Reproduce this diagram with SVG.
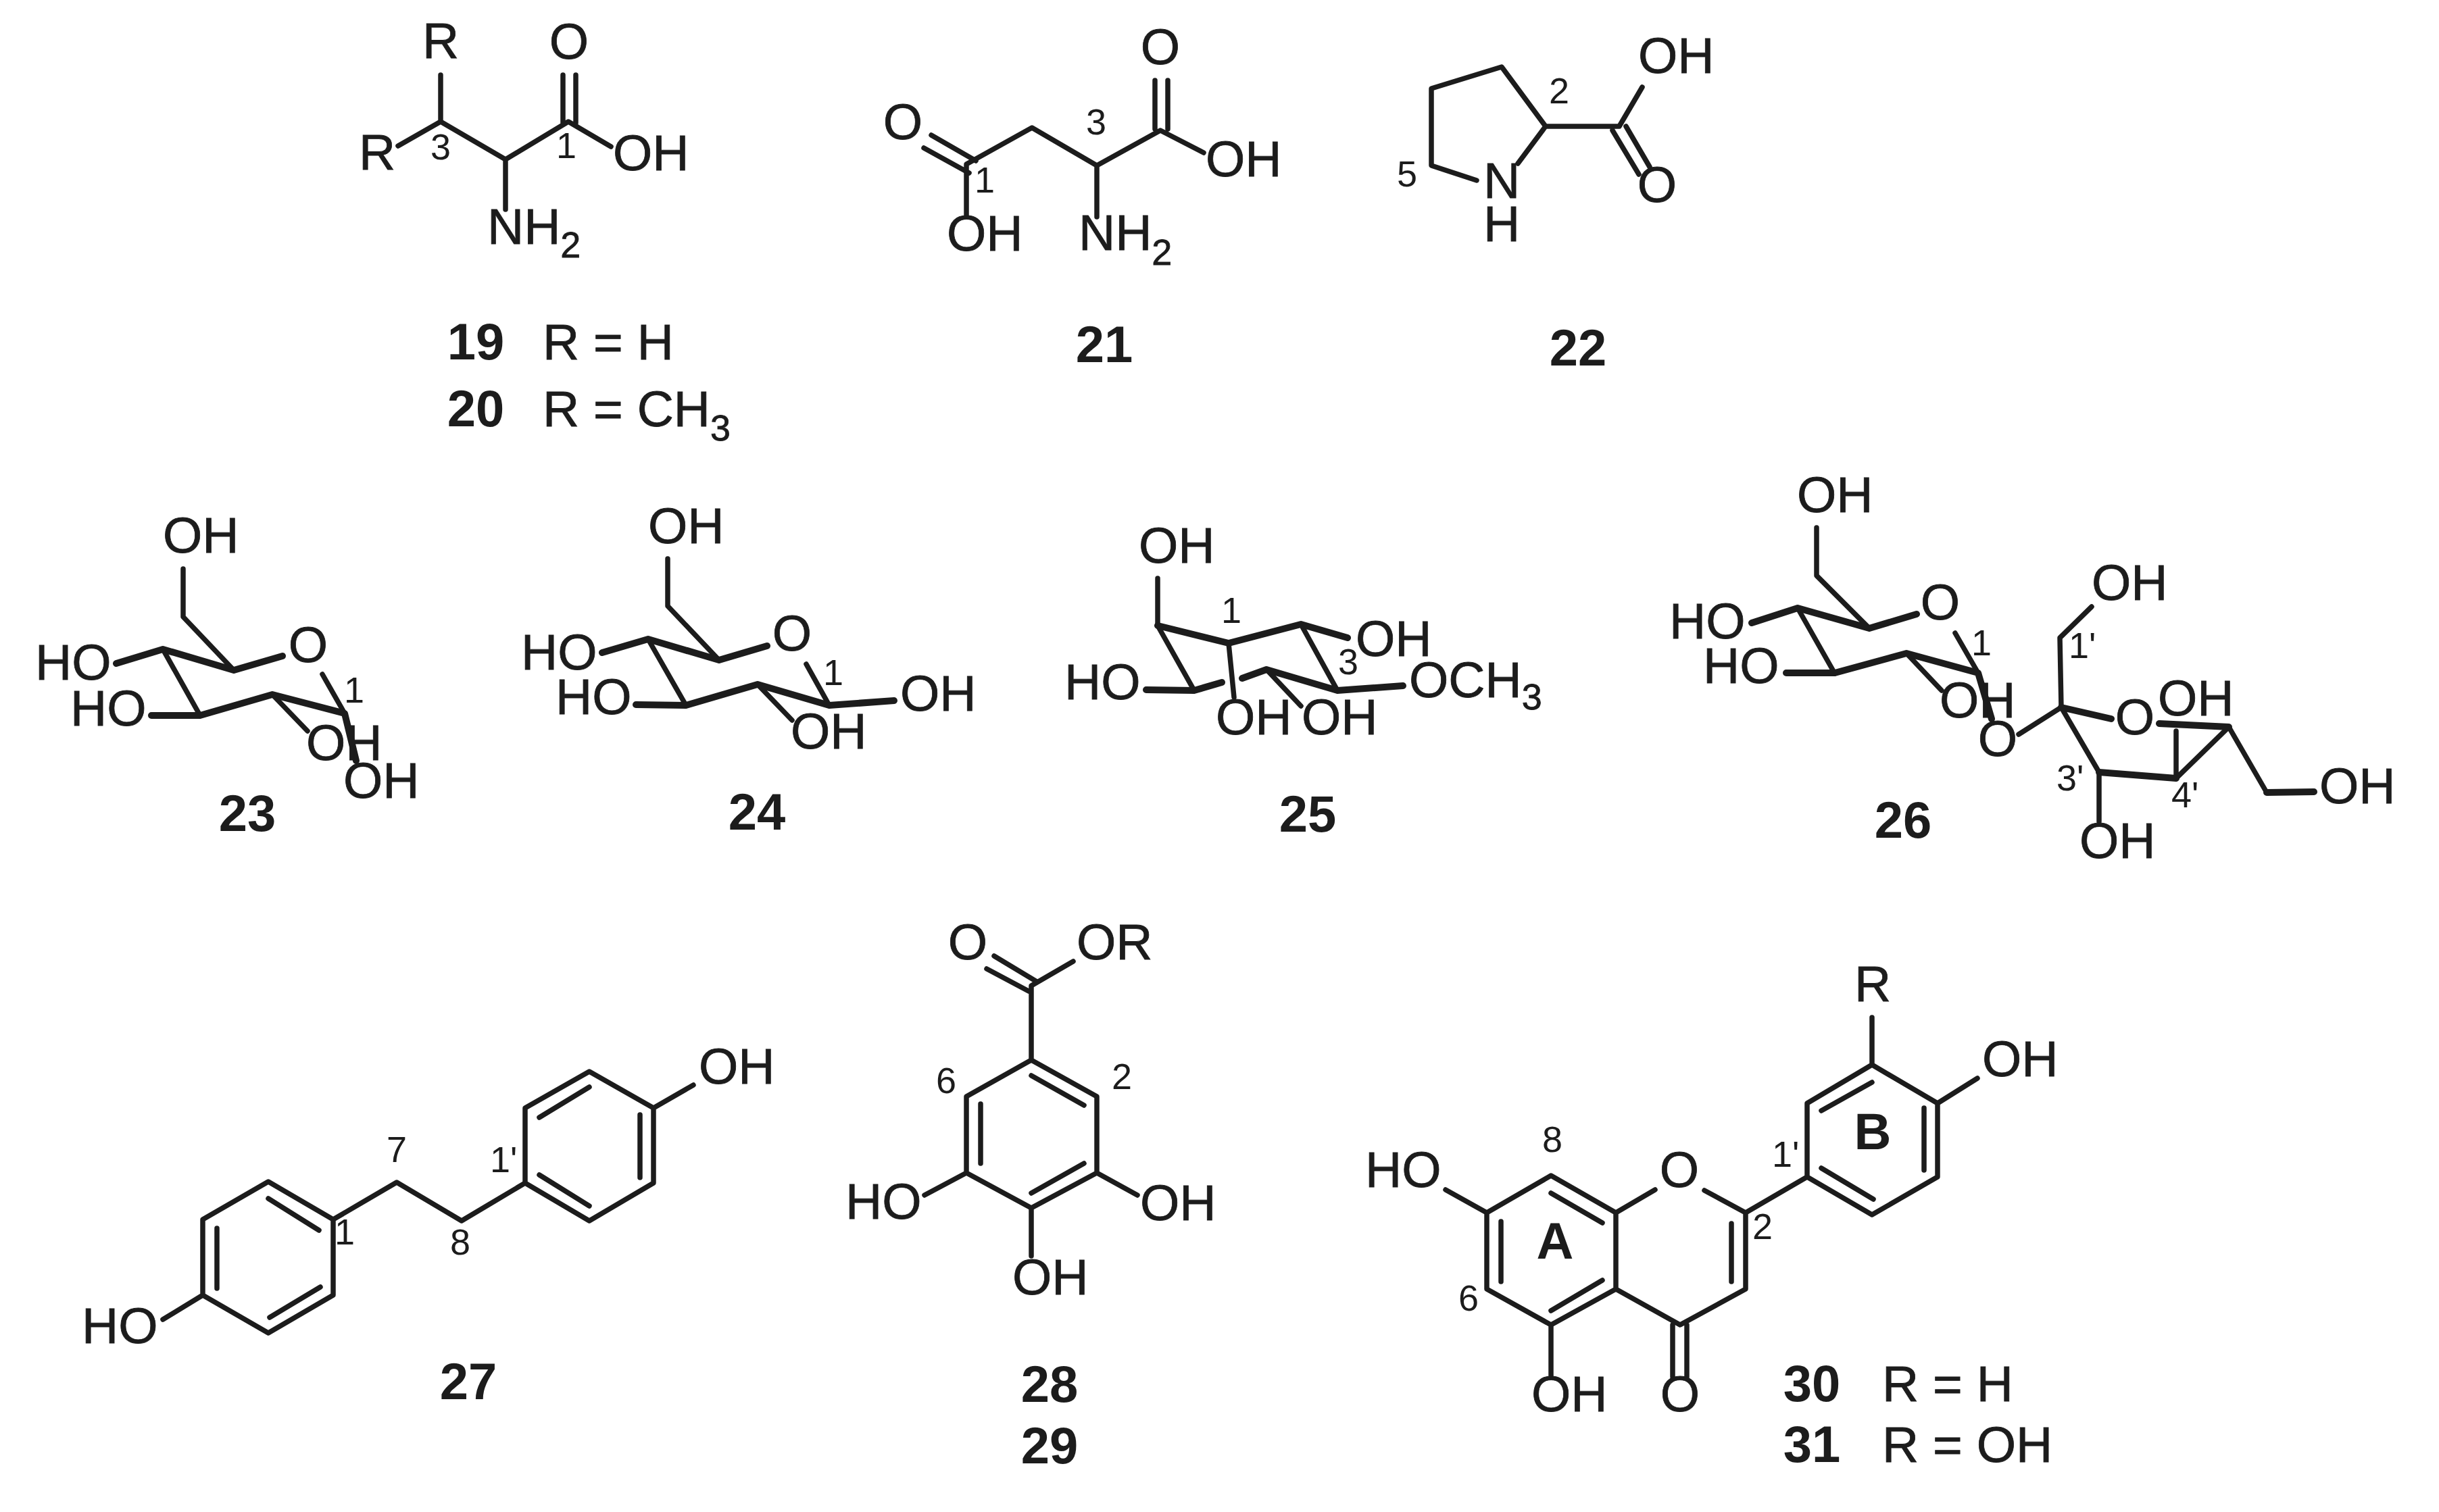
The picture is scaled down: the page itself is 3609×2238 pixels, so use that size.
<svg xmlns="http://www.w3.org/2000/svg" width="3609" height="2238" viewBox="0 0 3609 2238">
<style>
text{font-family:"Liberation Sans",Arial,sans-serif;fill:#1c1c1c}
.a{font-size:75px;stroke:#1c1c1c;stroke-width:.8}
.n{font-size:54px}
.b{font-size:76px;font-weight:bold}
.m{text-anchor:middle}
.s{font-size:54px}
.bond{fill:none;stroke:#1c1c1c;stroke-width:7.5;stroke-linecap:round;stroke-linejoin:round}
.bold{fill:none;stroke:#1c1c1c;stroke-width:10;stroke-linecap:round;stroke-linejoin:round}
</style>
<rect width="3609" height="2238" fill="#fff"/>
<g id="compound-19">
<path class="bond" d="M652 111V180L589 216M652 180L748 236V310M748 236L841 180L904 217M833 111V182M852 111V182"/>
<text class="a m" x="652" y="86">R</text>
<text class="a" x="531" y="251">R</text>
<text class="a m" x="842" y="87">O</text>
<text class="a" x="907" y="252">OH</text>
<text class="a" x="721" y="361">NH<tspan class="s" dy="20">2</tspan></text>
<text class="n m" x="652" y="236">3</text>
<text class="n m" x="838" y="234">1</text>
<text class="b m" x="704" y="532">19</text>
<text class="a" x="803" y="532">R = H</text>
<text class="b m" x="704" y="631">20</text>
<text class="a" x="803" y="631">R = CH<tspan class="s" dy="21">3</tspan></text>
</g>
<g id="compound-21">
<path class="bond" d="M1430 319V243L1527 189L1623 245V321M1623 245L1717 193L1781 226M1378 200L1444 238M1367 219L1434 256M1709 119V191M1728 119V191"/>
<text class="a m" x="1336" y="206">O</text>
<text class="a" x="1401" y="371">OH</text>
<text class="a m" x="1717" y="95">O</text>
<text class="a" x="1784" y="261">OH</text>
<text class="a" x="1596" y="370">NH<tspan class="s" dy="22">2</tspan></text>
<text class="n m" x="1622" y="199">3</text>
<text class="n m" x="1457" y="285">1</text>
<text class="b m" x="1634" y="536">21</text>
</g>
<g id="compound-22">
<path class="bond" d="M2246 242L2287 187L2222 99L2118 131V245L2185 267M2287 187H2396L2430 129M2386 193L2425 258M2406 187L2441 247"/>
<text class="a m" x="2222" y="293">N</text>
<text class="a m" x="2222" y="357">H</text>
<text class="a" x="2424" y="108">OH</text>
<text class="a m" x="2452" y="299">O</text>
<text class="n m" x="2307" y="153">2</text>
<text class="n m" x="2082" y="276">5</text>
<text class="b m" x="2335" y="541">22</text>
</g>
<g id="compound-23">
<path class="bond" d="M271 842V913L346 992M241 961L296 1059M403 1028L455 1082M510 1056L477 998"/>
<path class="bold" d="M418 971L346 992L241 961L172 982M224 1059H296L403 1028L510 1056L527 1126"/>
<text class="a" x="241" y="818">OH</text>
<text class="a m" x="456" y="980">O</text>
<text class="a" x="52" y="1006">HO</text>
<text class="a" x="104" y="1074">HO</text>
<text class="a" x="453" y="1125">OH</text>
<text class="a" x="508" y="1181">OH</text>
<text class="n m" x="524" y="1040">1</text>
<text class="b m" x="366" y="1230">23</text>
</g>
<g id="compound-24">
<path class="bond" d="M988 827V897L1064 977M959 946L1015 1044M1121 1013L1172 1066M1227 1044L1193 983"/>
<path class="bold" d="M1135 956L1064 977L959 946L891 966M941 1043L1015 1044L1121 1013L1227 1044L1323 1037"/>
<text class="a" x="959" y="804">OH</text>
<text class="a m" x="1172" y="963">O</text>
<text class="a" x="771" y="991">HO</text>
<text class="a" x="822" y="1057">HO</text>
<text class="a" x="1170" y="1108">OH</text>
<text class="a" x="1332" y="1052">OH</text>
<text class="n m" x="1233" y="1014">1</text>
<text class="b m" x="1120" y="1228">24</text>
</g>
<g id="compound-25">
<path class="bond" d="M1713 856V926L1767 1022M1925 924L1979 1022M1874 991L1925 1045M1818 952L1826 1032"/>
<path class="bold" d="M1713 926L1818 952L1925 924L1994 944M1696 1021L1767 1022L1808 1010M1838 1004L1874 991L1979 1022L2076 1015"/>
<text class="a" x="1685" y="833">OH</text>
<text class="a" x="2006" y="971">OH</text>
<text class="a" x="2085" y="1032">OCH<tspan class="s" dy="18">3</tspan></text>
<text class="a" x="1926" y="1087">OH</text>
<text class="a" x="1799" y="1087">OH</text>
<text class="a" x="1575" y="1035">HO</text>
<text class="n m" x="1822" y="922">1</text>
<text class="n m" x="1995" y="998">3</text>
<text class="b m" x="1935" y="1231">25</text>
</g>
<g id="compound-26">
<path class="bond" d="M2688 781V852L2766 930M2660 900L2715 997M2821 967L2873 1022M2927 996L2893 937M2987 1087L3050 1047L3048 944L3095 898M3050 1047L3106 1143V1216M3220 1082V1152L3298 1076L3354 1173"/>
<path class="bold" d="M2836 909L2766 930L2660 900L2592 922M2643 996H2715L2821 967L2927 996L2947 1064M3050 1047L3124 1064M3106 1143L3220 1152M3195 1071L3298 1076M3354 1173L3424 1172"/>
<text class="a" x="2659" y="758">OH</text>
<text class="a m" x="2871" y="917">O</text>
<text class="a" x="2470" y="945">HO</text>
<text class="a" x="2520" y="1011">HO</text>
<text class="a" x="2870" y="1062">OH</text>
<text class="a m" x="2956" y="1119">O</text>
<text class="a" x="3095" y="888">OH</text>
<text class="a m" x="3159" y="1087">O</text>
<text class="a" x="3193" y="1059">OH</text>
<text class="a" x="3077" y="1270">OH</text>
<text class="a" x="3432" y="1189">OH</text>
<text class="n m" x="2932" y="970">1</text>
<text class="n" x="3061" y="974">1'</text>
<text class="n" x="3043" y="1170">3'</text>
<text class="n" x="3213" y="1195">4'</text>
<text class="b m" x="2816" y="1240">26</text>
</g>
<g id="compound-27">
<path class="bond" d="M493 1805L397 1749L300 1805V1917L397 1973L493 1917ZM397 1774L472 1821M321 1818V1907M399 1950L474 1905M300 1917L241 1953M493 1805L587 1750L683 1807L777 1751L872 1807L967 1751V1640L872 1586L777 1640V1751M798 1654L872 1609M947 1650V1743M798 1739L872 1785M967 1640L1026 1606"/>
<text class="a" x="121" y="1988">HO</text>
<text class="a" x="1034" y="1604">OH</text>
<text class="n m" x="587" y="1720">7</text>
<text class="n m" x="681" y="1857">8</text>
<text class="n m" x="510" y="1842">1</text>
<text class="n" x="725" y="1735">1'</text>
<text class="b m" x="693" y="2071">27</text>
</g>
<g id="compound-28">
<path class="bond" d="M1526 1569L1623 1623V1736L1526 1788L1430 1736V1623ZM1526 1592L1604 1636M1451 1634V1722M1526 1766L1604 1722M1526 1569V1459L1588 1423M1471 1415L1534 1453M1460 1434L1522 1467M1430 1736L1368 1769M1623 1736L1683 1769M1526 1788V1859"/>
<text class="a m" x="1432" y="1420">O</text>
<text class="a" x="1593" y="1420">OR</text>
<text class="a" x="1251" y="1804">HO</text>
<text class="a" x="1687" y="1806">OH</text>
<text class="a" x="1498" y="1916">OH</text>
<text class="n m" x="1400" y="1618">6</text>
<text class="n m" x="1660" y="1612">2</text>
<text class="b m" x="1553" y="2075">28</text>
<text class="b m" x="1553" y="2166">29</text>
</g>
<g id="compound-30">
<path class="bond" d="M2770 1506V1576L2867 1633V1742L2770 1798L2674 1742V1633L2770 1576M2770 1602L2695 1644M2847 1640V1732M2695 1729L2772 1775M2867 1633L2926 1596M2674 1742L2583 1795L2522 1762M2391 1795L2449 1761M2391 1795L2295 1740L2200 1795V1908L2295 1961L2391 1908ZM2295 1766L2371 1810M2221 1808V1897M2295 1940L2371 1895M2200 1795L2139 1761M2583 1795V1908L2486 1961L2391 1908M2562 1811V1897M2475 1961V2038M2496 1961V2038M2295 1961V2037"/>
<text class="a m" x="2771" y="1482">R</text>
<text class="a" x="2933" y="1593">OH</text>
<text class="a m" x="2485" y="1757">O</text>
<text class="a" x="2020" y="1757">HO</text>
<text class="a m" x="2486" y="2089">O</text>
<text class="a" x="2266" y="2089">OH</text>
<text class="b m" x="2771" y="1701">B</text>
<text class="b m" x="2301" y="1863">A</text>
<text class="n m" x="2297" y="1705">8</text>
<text class="n m" x="2173" y="1940">6</text>
<text class="n" x="2622" y="1727">1'</text>
<text class="n m" x="2608" y="1834">2</text>
<text class="b m" x="2681" y="2074">30</text>
<text class="a" x="2785" y="2074">R = H</text>
<text class="b m" x="2681" y="2164">31</text>
<text class="a" x="2785" y="2164">R = OH</text>
</g>
</svg>
